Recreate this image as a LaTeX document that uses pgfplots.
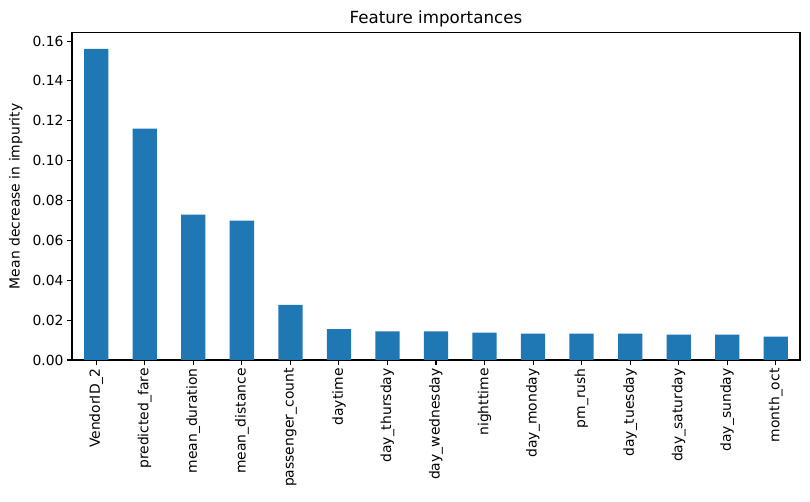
\documentclass[border=0pt]{standalone}
\usepackage{pgfplots}
\pgfplotsset{compat=1.18}
\usepackage{fontspec}
\setmainfont{DejaVu Sans}
\definecolor{mplblue}{HTML}{1F77B4}
\begin{document}
\begin{tikzpicture}
\useasboundingbox (0,0) rectangle (810bp,502bp);
\begin{axis}[
  at={(72bp,142bp)}, anchor=south west,
  scale only axis,
  width=728bp, height=327.3bp,
  xmin=-0.5, xmax=14.5,
  ymin=0, ymax=0.1642,
  xtick={0,...,14},
  xticklabels={VendorID\_2,predicted\_fare,mean\_duration,mean\_distance,passenger\_count,daytime,day\_thursday,day\_wednesday,nighttime,day\_monday,pm\_rush,day\_tuesday,day\_saturday,day\_sunday,month\_oct},
  x tick label style={rotate=90, anchor=east, font=\fontsize{13.9bp}{16bp}\selectfont},
  ytick={0,0.02,0.04,0.06,0.08,0.1,0.12,0.14,0.16},
  yticklabel style={/pgf/number format/fixed, /pgf/number format/fixed zerofill, /pgf/number format/precision=2, font=\fontsize{13.9bp}{16bp}\selectfont},
  /pgf/number format/assume math mode=true,
  tick align=outside,
  tick pos=left,
  major tick length=4.9bp,
  every tick/.style={black, line width=1.1bp},
  axis line style={line width=1.1bp, black},
  scaled y ticks=false,
  title={Feature importances},
  every axis title/.style={font=\fontsize{16.7bp}{19bp}\selectfont, at={(0.5,1)}, anchor=south, inner sep=0pt, yshift=5.5bp},
  ylabel={Mean decrease in impurity},
  every axis y label/.style={at={(ticklabel cs:0.5)}, rotate=90, anchor=south, inner sep=0pt, yshift=6.6bp, font=\fontsize{13.9bp}{16bp}\selectfont},
]
\addplot[ybar, bar width=0.5, fill=mplblue, draw=none] coordinates {
(0,0.1561) (1,0.1161) (2,0.0729) (3,0.0699) (4,0.0277) (5,0.0155) (6,0.0143) (7,0.0143) (8,0.0137) (9,0.0132) (10,0.0132) (11,0.0132) (12,0.0127) (13,0.0127) (14,0.0117)
};
\end{axis}
\end{tikzpicture}
\end{document}
